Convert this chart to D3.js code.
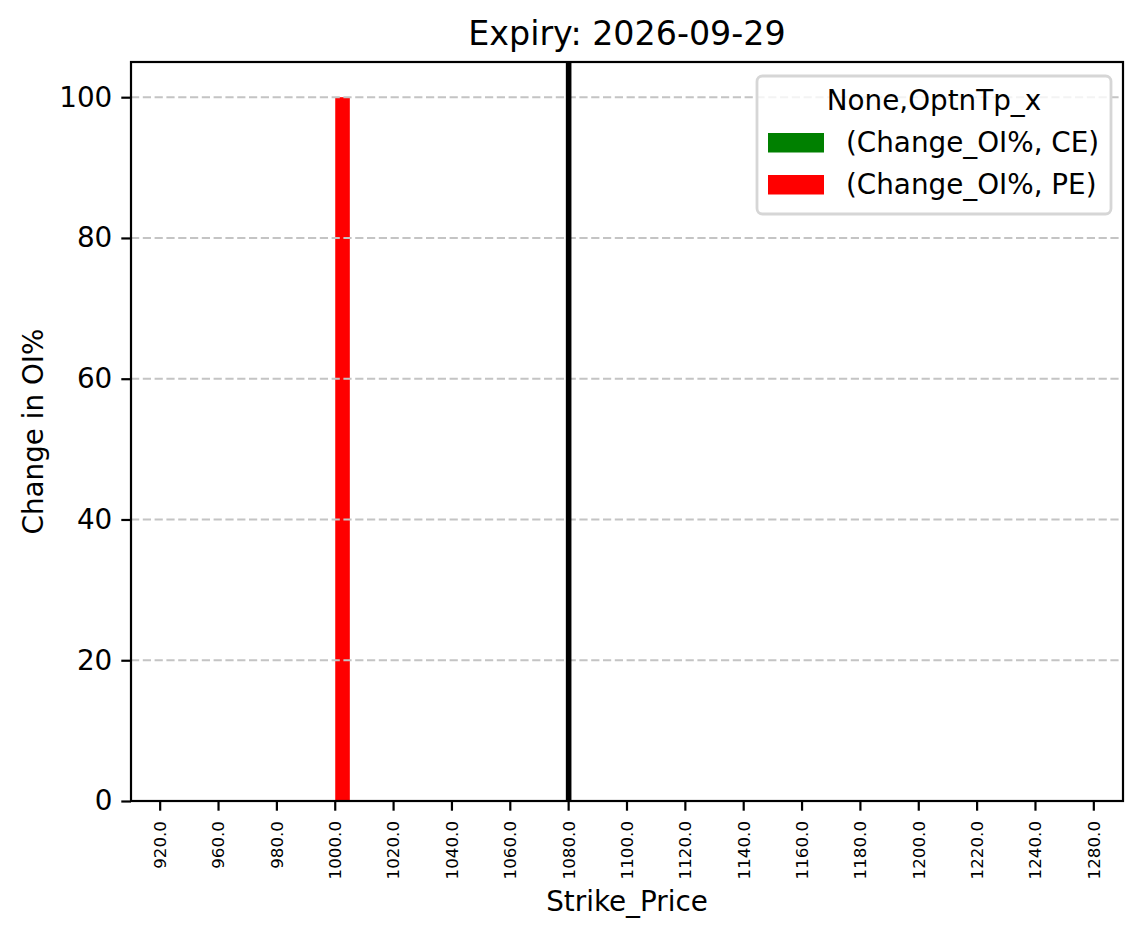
<!DOCTYPE html>
<html>
<head>
<meta charset="utf-8">
<script src="https://cdn.jsdelivr.net/npm/d3@7"></script>
<style>
  body { margin: 0; background: #fff; }
  svg { display: block; font-family: "DejaVu Sans", sans-serif; }
</style>
</head>
<body>
<div id="chart"></div>
<script>
const width = 1143;
const height = 939;

// data
const strikes = [920, 960, 980, 1000, 1020, 1040, 1060, 1080, 1100, 1120, 1140, 1160, 1180, 1200, 1220, 1240, 1280];
const ceChange = [0, 0, 0, 0, 0, 0, 0, 0, 0, 0, 0, 0, 0, 0, 0, 0, 0];
const peChange = [0, 0, 0, 100, 0, 0, 0, 0, 0, 0, 0, 0, 0, 0, 0, 0, 0];
const spotStrike = 1080;
const yTicks = [0, 20, 40, 60, 80, 100];
const seriesNames = ["(Change_OI%, CE)", "(Change_OI%, PE)"];
const seriesColors = ["green", "red"];
const legendTitle = "None,OptnTp_x";
const chartTitle = "Expiry: 2026-09-29";

const plot = { left: 131, right: 1123, top: 62, bottom: 801 };

const svg = d3.select("#chart")
    .append("svg")
    .attr("width", width)
    .attr("height", height);

const x = d3.scaleBand()
    .domain(strikes)
    .range([plot.left, plot.right])
    .paddingInner(0)
    .paddingOuter(0);

const y = d3.scaleLinear()
    .domain([0, 105])
    .range([plot.bottom, plot.top]);

const bw = x.bandwidth();
const center = s => x(s) + bw / 2;

// bars (pandas style: two series share half of the band)
const series = [ceChange, peChange];
series.forEach((vals, si) => {
    svg.append("g")
        .selectAll("rect")
        .data(strikes.map((s, i) => ({ s: s, v: vals[i] })))
        .enter()
        .append("rect")
        .attr("x", d => center(d.s) + (si === 0 ? -0.25 * bw : 0))
        .attr("width", 0.25 * bw)
        .attr("y", d => y(d.v))
        .attr("height", d => y(0) - y(d.v))
        .attr("fill", seriesColors[si]);
});

// grid
svg.append("g")
    .selectAll("line")
    .data(yTicks)
    .enter()
    .append("line")
    .attr("x1", plot.left)
    .attr("x2", plot.right)
    .attr("y1", d => y(d))
    .attr("y2", d => y(d))
    .attr("stroke", "#c4c4c4")
    .attr("stroke-width", 2)
    .attr("stroke-dasharray", "8.2,3.6");

// spot line
svg.append("line")
    .attr("x1", center(spotStrike))
    .attr("x2", center(spotStrike))
    .attr("y1", plot.top)
    .attr("y2", plot.bottom)
    .attr("stroke", "#000")
    .attr("stroke-width", 5.6);

// frame
svg.append("rect")
    .attr("x", plot.left)
    .attr("y", plot.top)
    .attr("width", plot.right - plot.left)
    .attr("height", plot.bottom - plot.top)
    .attr("fill", "none")
    .attr("stroke", "#000")
    .attr("stroke-width", 2.2);

// y axis
const yAxis = svg.append("g")
    .attr("transform", `translate(${plot.left},0)`)
    .call(d3.axisLeft(y).tickValues(yTicks).tickSize(9.7).tickPadding(9))
    .call(g => g.select(".domain").remove());
yAxis.selectAll("line").attr("stroke-width", 2.2);
yAxis.selectAll("text")
    .attr("font-size", 27.8)
    .attr("font-family", "DejaVu Sans")
    .attr("fill", "#000");

// x axis
const xAxis = svg.append("g")
    .attr("transform", `translate(0,${plot.bottom})`)
    .call(d3.axisBottom(x).tickSize(9.7).tickFormat(d => d.toFixed(1)))
    .call(g => g.select(".domain").remove());
xAxis.selectAll("line").attr("stroke-width", 2.2);
xAxis.selectAll("text")
    .attr("font-size", 16.7)
    .attr("font-family", "DejaVu Sans")
    .attr("fill", "#000")
    .attr("text-anchor", "end")
    .attr("transform", "translate(0,20) rotate(-90)")
    .attr("x", 0)
    .attr("y", 0)
    .attr("dy", "0.35em");

// labels
svg.append("text")
    .attr("x", (plot.left + plot.right) / 2)
    .attr("y", 45)
    .attr("text-anchor", "middle")
    .attr("font-size", 33.3)
    .text(chartTitle);

svg.append("text")
    .attr("x", (plot.left + plot.right) / 2)
    .attr("y", 911)
    .attr("text-anchor", "middle")
    .attr("font-size", 27.8)
    .text("Strike_Price");

svg.append("text")
    .attr("transform", `translate(43,${(plot.top + plot.bottom) / 2}) rotate(-90)`)
    .attr("text-anchor", "middle")
    .attr("font-size", 27.8)
    .text("Change in OI%");

// legend
const lg = svg.append("g");
lg.append("rect")
    .attr("x", 757)
    .attr("y", 76)
    .attr("width", 354)
    .attr("height", 138)
    .attr("rx", 5.5)
    .attr("fill", "#fff")
    .attr("fill-opacity", 0.8)
    .attr("stroke", "#d6d6d6")
    .attr("stroke-width", 2.8);
lg.append("text")
    .attr("x", 934)
    .attr("y", 110)
    .attr("text-anchor", "middle")
    .attr("font-size", 27.8)
    .text(legendTitle);
seriesNames.forEach((name, i) => {
    lg.append("rect")
        .attr("x", 768)
        .attr("y", 133 + i * 42)
        .attr("width", 56)
        .attr("height", 19.5)
        .attr("fill", seriesColors[i]);
    lg.append("text")
        .attr("x", 846)
        .attr("y", 152 + i * 42)
        .attr("font-size", 27.8)
        .text(name);
});
</script>
</body>
</html>
